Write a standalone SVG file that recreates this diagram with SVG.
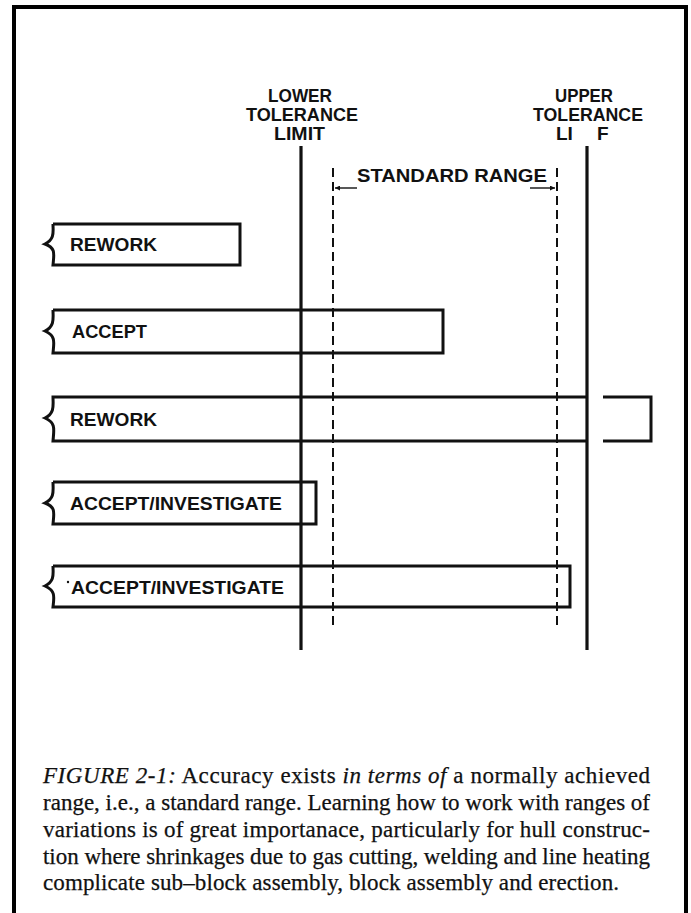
<svg xmlns="http://www.w3.org/2000/svg" width="691" height="913" viewBox="0 0 691 913">
<style>
.lbl{font-family:"Liberation Sans",Arial,sans-serif;font-weight:bold;font-size:19px;fill:#111}
.cap{font-family:"Liberation Serif","Times New Roman",serif;font-size:23px;fill:#111;stroke:#111;stroke-width:0.25}
.it{font-style:italic}
.bar{fill:none;stroke:#111;stroke-width:3;stroke-linejoin:miter}
.solid{stroke:#111;stroke-width:3.2;fill:none}
.dash{stroke:#111;stroke-width:2;fill:none;stroke-dasharray:9 5}
.arr{stroke:#111;stroke-width:1.4;fill:none}
</style>
<defs>
<marker id="ah" viewBox="0 0 10 10" refX="10" refY="5" markerWidth="7" markerHeight="5" orient="auto" markerUnits="userSpaceOnUse">
<path d="M0 0 L10 5 L0 10 Z" fill="#111"/>
</marker>
</defs>
<rect width="691" height="913" fill="#fff"/>
<path d="M14 913 V7 H686 V913" fill="none" stroke="#000" stroke-width="4"/>

<g id="lower-limit-label">
<text class="lbl" x="268" y="102" textLength="64" lengthAdjust="spacingAndGlyphs">LOWER</text>
<text class="lbl" x="246" y="121" textLength="112" lengthAdjust="spacingAndGlyphs">TOLERANCE</text>
<text class="lbl" x="274" y="140" textLength="51" lengthAdjust="spacingAndGlyphs">LIMIT</text>
</g>
<g id="upper-limit-label">
<text class="lbl" x="555" y="102" textLength="58" lengthAdjust="spacingAndGlyphs">UPPER</text>
<text class="lbl" x="533" y="121" textLength="110" lengthAdjust="spacingAndGlyphs">TOLERANCE</text>
<text class="lbl" y="140"><tspan x="556">LI</tspan><tspan x="597">F</tspan></text>
</g>
<g id="standard-range-label">
<text class="lbl" x="357" y="182" textLength="190" lengthAdjust="spacingAndGlyphs">STANDARD RANGE</text>
</g>

<g id="bar1">
<path class="bar" d="M53 224 H240 V265 H53 C54 254 56 248 45 244 C55 239 53 232 53 224"/>
<text class="lbl" x="70" y="251" textLength="87" lengthAdjust="spacingAndGlyphs">REWORK</text>
</g>
<g id="bar2">
<path class="bar" d="M53 310 H443 V353 H53 C54 342 56 336 45 331 C55 326 53 318 53 310"/>
<text class="lbl" x="72" y="338" textLength="75" lengthAdjust="spacingAndGlyphs">ACCEPT</text>
</g>
<g id="bar3">
<path class="bar" d="M587 397 H53 C53 405 55 413 45 418 C56 423 54 429 53 441 H587"/>
<path class="bar" d="M603 397 H651 V441 H603"/>
<text class="lbl" x="70" y="426" textLength="87" lengthAdjust="spacingAndGlyphs">REWORK</text>
</g>
<g id="bar4">
<path class="bar" d="M53 482 H316 V524 H53 C54 513 56 507 45 503 C55 498 53 491 53 482"/>
<text class="lbl" x="70" y="510" textLength="212" lengthAdjust="spacingAndGlyphs">ACCEPT/INVESTIGATE</text>
</g>
<g id="bar5">
<path class="bar" d="M53 566 H570 V607 H53 C54 597 56 591 45 586 C55 581 53 574 53 566"/>
<circle cx="68" cy="582" r="1.2" fill="#111"/>
<text class="lbl" x="71" y="594" textLength="213" lengthAdjust="spacingAndGlyphs">ACCEPT/INVESTIGATE</text>
</g>

<g id="connectors">
<line class="solid" x1="301" y1="146" x2="301" y2="650"/>
<line class="solid" x1="587" y1="146" x2="587" y2="650"/>
<line class="dash" x1="333" y1="168" x2="333" y2="628"/>
<line class="dash" x1="557" y1="168" x2="557" y2="628"/>
<line class="arr" x1="357" y1="188" x2="335" y2="188" marker-end="url(#ah)"/>
<line class="arr" x1="530" y1="188" x2="555" y2="188" marker-end="url(#ah)"/>
</g>

<g id="caption">
<text class="cap" x="43" y="783" textLength="607" lengthAdjust="spacing"><tspan class="it">FIGURE 2-1:</tspan> Accuracy exists <tspan class="it">in terms of</tspan> a normally achieved</text>
<text class="cap" x="43" y="810" textLength="607" lengthAdjust="spacing">range, i.e., a standard range. Learning how to work with ranges of</text>
<text class="cap" x="43" y="837" textLength="607" lengthAdjust="spacing">variations is of great importanace, particularly for hull construc-</text>
<text class="cap" x="43" y="864" textLength="607" lengthAdjust="spacing">tion where shrinkages due to gas cutting, welding and line heating</text>
<text class="cap" x="43" y="890" textLength="576" lengthAdjust="spacing">complicate sub–block assembly, block assembly and erection.</text>
</g>
</svg>
